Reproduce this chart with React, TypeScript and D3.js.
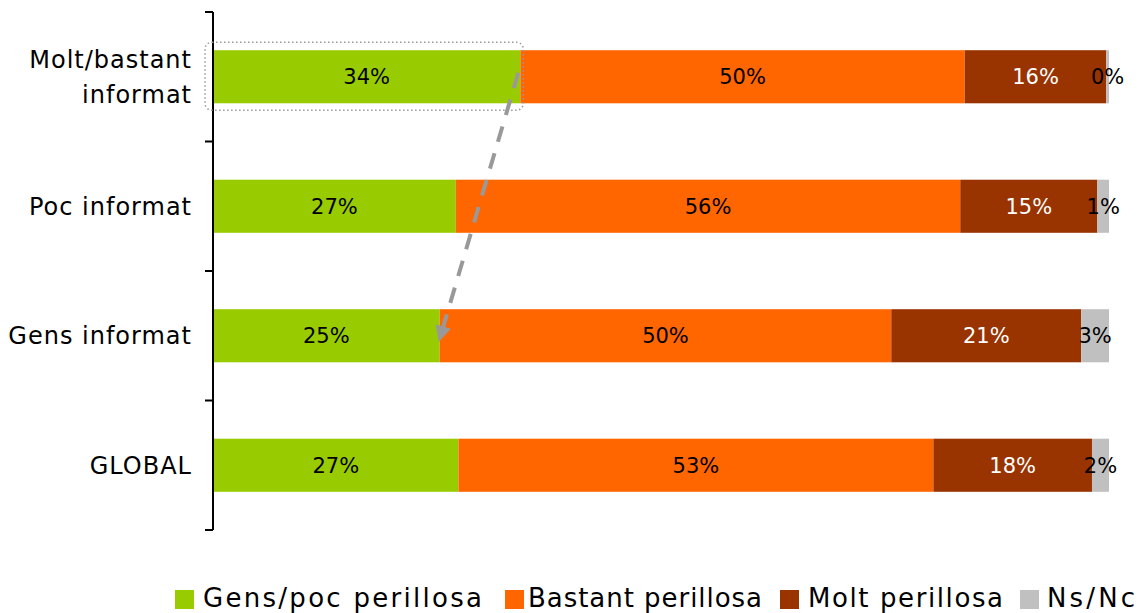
import React from "react";
import * as d3 from "d3";

const categories = ["Molt/bastant informat", "Poc informat", "Gens informat", "GLOBAL"];
const categoryLines = [["Molt/bastant", "informat"], ["Poc informat"], ["Gens informat"], ["GLOBAL"]];
const seriesNames = ["Gens/poc perillosa", "Bastant perillosa", "Molt perillosa", "Ns/Nc"];
const seriesColors = ["#99cc00", "#ff6600", "#993300", "#c0c0c0"];
const labelColors = ["#000000", "#000000", "#ffffff", "#000000"];
const gensPoc = [34.3, 27.1, 25.3, 27.4];
const bastant = [49.6, 56.3, 50.4, 53.0];
const molt = [15.8, 15.3, 21.2, 17.7];
const nsnc = [0.3, 1.3, 3.1, 1.9];

const W = 1139;
const H = 613;
const FONT = "'DejaVu Sans', sans-serif";

export default function App() {
  const series = [gensPoc, bastant, molt, nsnc];
  const x = d3.scaleLinear().domain([0, 100]).range([213, 1109]);
  const y = d3.scaleBand<string>().domain(categories).range([12, 530]).paddingInner(0.59).paddingOuter(0.295);
  const rows = categories.map((c, i) => {
    let acc = 0;
    return series.map((s, k) => {
      const x0 = acc;
      acc += s[i];
      return { k, x0, x1: acc, v: s[i] };
    });
  });
  const bw = y.bandwidth();
  const fmt = d3.format(".0f");
  const step = y.step();
  const ticks = d3.range(categories.length + 1).map((i) => 12 + i * step);

  const c0 = categories[0];
  const c2 = categories[2];
  const boxX0 = x(0) - 8;
  const boxX1 = x(gensPoc[0]) + 3;
  const boxY0 = (y(c0) as number) - 8;
  const boxY1 = (y(c0) as number) + bw + 7;
  const ax0 = x(gensPoc[0]) - 2;
  const ay0 = (y(c0) as number) + bw / 2 - 4;
  const ax1 = x(gensPoc[2]);
  const ay1 = (y(c2) as number) + bw / 2 + 3;

  return (
    <svg width={W} height={H} style={{ position: "absolute", left: 0, top: 0, background: "#fff" }}>
      <defs>
        <marker id="ah" viewBox="0 0 10 10" refX="8" refY="5" markerWidth="4" markerHeight="4" orient="auto" markerUnits="strokeWidth">
          <path d="M0,0 L10,5 L0,10 z" fill="#999999" />
        </marker>
      </defs>
      {rows.map((segs, i) =>
        segs.map((s) => (
          <rect key={`${i}-${s.k}`} x={x(s.x0)} y={y(categories[i])} width={x(s.x1) - x(s.x0)} height={bw} fill={seriesColors[s.k]} />
        ))
      )}
      {rows.map((segs, i) =>
        segs.map((s) => (
          <text
            key={`t${i}-${s.k}`}
            x={(x(s.x0) + x(s.x1)) / 2}
            y={(y(categories[i]) as number) + bw / 2}
            dy="0.35em"
            textAnchor="middle"
            fontFamily={FONT}
            fontSize={21}
            fill={labelColors[s.k]}
          >
            {fmt(s.v)}%
          </text>
        ))
      )}
      <line x1={213} x2={213} y1={12} y2={530} stroke="#000" strokeWidth={2} />
      {ticks.map((t, i) => (
        <line key={i} x1={205} x2={213} y1={t} y2={t} stroke="#000" strokeWidth={2} />
      ))}
      {categoryLines.map((lines, i) => {
        const cy = (y(categories[i]) as number) + bw / 2;
        const lh = 35;
        return (
          <text key={i} textAnchor="end" fontFamily={FONT} fontSize={24} letterSpacing={1.0} fill="#000">
            {lines.map((l, j) => (
              <tspan key={j} x={192} y={cy + (j - (lines.length - 1) / 2) * lh} dy="0.35em">
                {l}
              </tspan>
            ))}
          </text>
        );
      })}
      <rect x={boxX0} y={boxY0} width={boxX1 - boxX0} height={boxY1 - boxY0} rx={7} fill="none" stroke="#999" strokeWidth={1.5} strokeDasharray="1.5 2.5" />
      <line x1={ax0} y1={ay0} x2={ax1} y2={ay1} stroke="#999999" strokeWidth={4} strokeDasharray="16 12" markerEnd="url(#ah)" />
      {(() => {
        const items = [
          { sx: 175, tx: 203, len: 279 },
          { sx: 505, tx: 528, len: 234 },
          { sx: 780, tx: 808, len: 195 },
          { sx: 1020, tx: 1047, len: 88 },
        ];
        return seriesNames.map((n, k) => (
          <g key={k}>
            <rect x={items[k].sx} y={590} width={19} height={19} fill={seriesColors[k]} />
            <text x={items[k].tx} y={607} fontFamily={FONT} fontSize={26} textLength={items[k].len} lengthAdjust="spacing" fill="#000">
              {n}
            </text>
          </g>
        ));
      })()}
    </svg>
  );
}
